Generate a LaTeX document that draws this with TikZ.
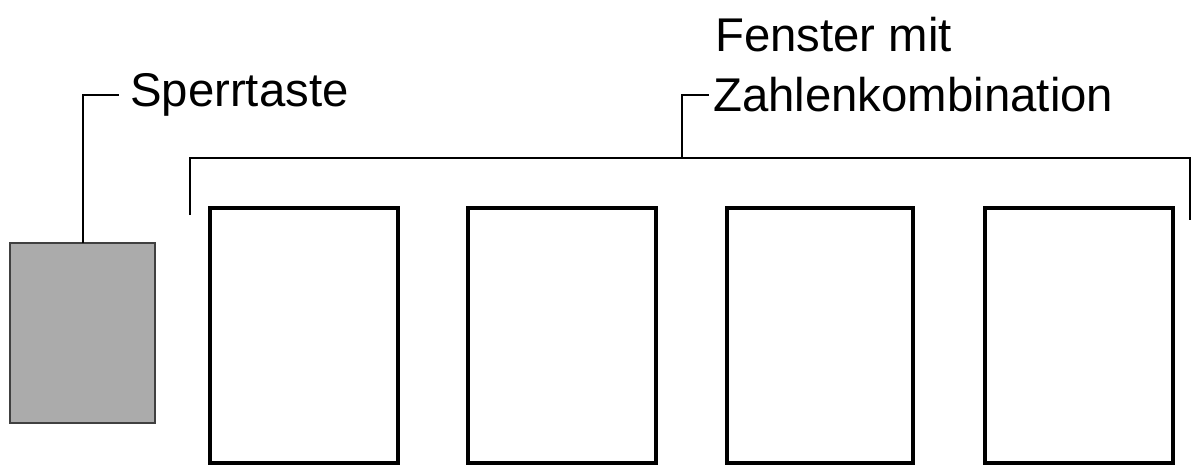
\documentclass[tikz,border=0pt]{standalone}
\usepackage{fontspec}
\setmainfont{Liberation Sans}
\begin{document}
\begin{tikzpicture}[x=0.75pt,y=-0.75pt]
\tikzset{win/.style={draw=black,line width=3.5pt,fill=white,minimum width=0pt},
  lead/.style={draw=black,line width=2.2pt},
  lbl/.style={font=\fontsize{35.5}{40}\selectfont,anchor=west,inner sep=0pt}}
\useasboundingbox (0,0) rectangle (1195,474);
\fill[fill=white] (0,0) rectangle (1195,474);
\draw[draw=black!75,line width=1.5pt,fill=black!33] (10,243) rectangle (155,423);
\coordinate (k) at (83,243);
\draw[win] (210,208) rectangle (398,463);
\draw[win] (468,208) rectangle (656,463);
\draw[win] (727,208) rectangle (913,463);
\draw[win] (985,208) rectangle (1173,463);
\node[lbl] (s) at (130,95) {Sperrtaste};
\node[lbl] (f1) at (715,35) {Fenster mit};
\node[lbl] (f2) at (713,95) {Zahlenkombination};
\draw[lead] (k) -- (83,95) -- ([xshift=-8pt]s.west);
\draw[lead] (190,215) -- (190,158) -- (1190,158) -- (1190,220);
\draw[lead] (682,158) -- (682,95) -- ([xshift=-3pt]f2.west);
\end{tikzpicture}
\end{document}
